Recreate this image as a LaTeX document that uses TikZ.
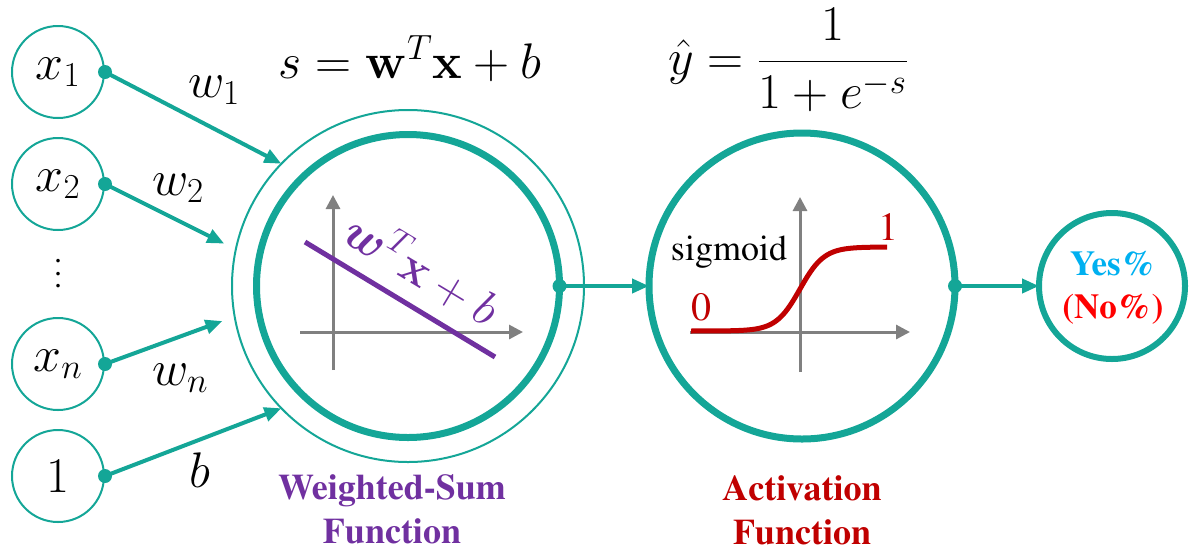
\RequirePackage{fix-cm}
\documentclass[tikz,border=0pt]{standalone}
\usepackage{amsmath}
\usepackage[T1]{fontenc}
\renewcommand{\rmdefault}{ptm}
\usepackage{graphicx}
\usepackage{tikz}
\usetikzlibrary{arrows.meta, positioning, calc}
\usepackage{xcolor}
\definecolor{nnteal}{HTML}{14A697}
\definecolor{sumpurple}{HTML}{7030A0}
\definecolor{actred}{HTML}{C00000}
\definecolor{yesblue}{HTML}{00B0F0}
\definecolor{nored}{HTML}{FF0000}
\definecolor{axisgray}{HTML}{808080}
\newcommand{\eqfont}{\fontsize{50}{60}\selectfont}
\newcommand{\lblfont}{\fontsize{36}{44}\selectfont}

\begin{document}
\begin{tikzpicture}[x=1pt, y=-1pt, node distance=18pt,
    innode/.style={circle, draw=nnteal, line width=2pt, minimum size=92pt, inner sep=0pt, font=\eqfont},
    bignode/.style={circle, draw=nnteal, line width=7pt, inner sep=0pt, outer sep=0pt},
    wire/.style={draw=nnteal, line width=4pt, -{Triangle[length=17pt, width=14pt]}},
    axis/.style={draw=axisgray, line width=3pt, -{Triangle[length=14pt, width=14pt]}}]
  \useasboundingbox (0,0) rectangle (1190,550);

  % inputs
  \node[innode] (x1) at (58,72) {$x_1$};
  \node[innode, below=of x1] (x2) {$x_2$};
  \node[innode] (xn) at (58,364) {$x_n$};
  \node[innode, below=of xn] (one) {$1$};
  \node[yshift=10pt, inner sep=0pt] (dots) at ($(x2)!0.5!(xn)$) {\scalebox{3.2}{$\vdots$}};

  % neurons
  \node[circle, draw=nnteal, line width=2pt, outer sep=0pt, minimum size=352pt] (ws) at (408,286) {};
  \node[bignode, minimum size=303pt] (wsin) at (ws) {};
  \node[bignode, minimum size=306pt] (act) at (802,286) {};
  \node[bignode, line width=6pt, minimum size=146pt] (out) at (1112,286) {};

  % weights
  \draw[wire] (x1.east) -- (ws.136);
  \draw[wire, shorten >=13pt] (x2.east) -- (ws.168);
  \draw[wire, shorten >=13pt] (xn.east) -- (ws.190);
  \draw[wire] (one.east) -- (ws.224);
  \draw[wire] (wsin.east) -- (act.west);
  \draw[wire] (act.east) -- (out.west);
  \foreach \n in {x1, x2, xn, one, wsin, act}
    \fill[nnteal] (\n.east) circle (7pt);

  \node[font=\eqfont] (w1) at (214,90) {$w_1$};
  \node[font=\eqfont] (w2) at (178,188) {$w_2$};
  \node[font=\eqfont] (wn) at (180,378) {$w_n$};
  \node[font=\eqfont] (bias) at (200,470) {$b$};

  % weighted sum plot
  \draw[axis] (333,370) -- (333,195);
  \draw[axis] (300,332) -- (523,332);
  \draw[sumpurple, line width=5pt] (305,242) -- (495,357);
  \node[sumpurple, rotate=-31, font=\fontsize{48}{56}\selectfont] (wsform) at (423,268) {$\boldsymbol{w}^T\mathbf{x}+b$};

  % sigmoid plot
  \draw[axis] (800,372) -- (800,197);
  \draw[axis] (690,332) -- (910,332);
  \draw[actred, line width=5pt, domain=691:887, samples=80] plot (\x, {331-84/(1+exp(-(\x-800)/12))});
  \node[font=\lblfont, anchor=base] (sig) at (729,260) {sigmoid};
  \node[actred, font=\fontsize{40}{48}\selectfont, anchor=base] (zero) at (701,320) {0};
  \node[actred, font=\fontsize{40}{48}\selectfont, anchor=base] (unity) at (888,240) {1};

  % output
  \node[yesblue, font=\bfseries\fontsize{35}{42}\selectfont, anchor=base] (yes) at (1113,275) {Yes\%};
  \node[nored, font=\bfseries\fontsize{35}{42}\selectfont, anchor=base] (no) at (1113,318) {(No\%)};

  % formulas
  \node[font=\eqfont, anchor=base] (sform) at (410,78) {$s=\mathbf{w}^T\mathbf{x}+b$};
  \node[font=\eqfont, anchor=base] (yform) at (788,74) {$\displaystyle\hat{y}=\frac{1}{1+e^{-s}}$};

  % captions
  \node[sumpurple, font=\bfseries\lblfont, align=center, anchor=north, inner sep=0pt] (wslabel) at (392,474) {Weighted-Sum\\Function};
  \node[actred, font=\bfseries\lblfont, align=center, anchor=north, inner sep=0pt] (actlabel) at (802,475) {Activation\\Function};
\end{tikzpicture}
\end{document}
